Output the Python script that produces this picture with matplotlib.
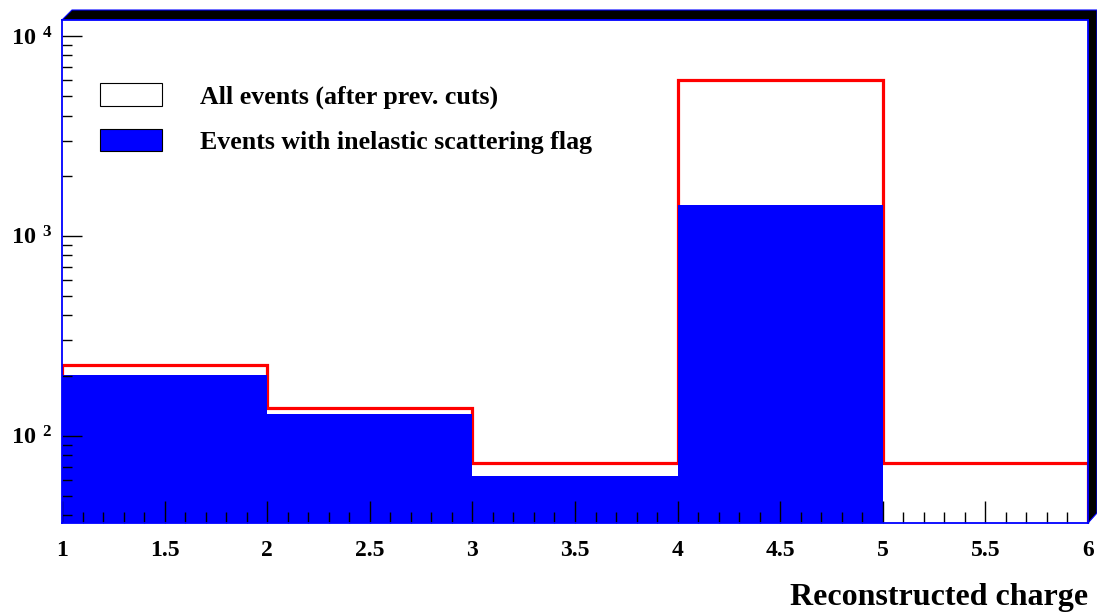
import matplotlib
matplotlib.use('Agg')
import matplotlib.pyplot as plt
import numpy as np
from matplotlib.patches import Patch, Polygon
from matplotlib.ticker import FixedLocator, FixedFormatter, LogLocator, MultipleLocator, NullFormatter

# ---- data ----
bin_edges = [1, 2, 3, 4, 5, 6]
all_events = [226, 138, 73, 6000, 73]
inelastic_events = [201, 129, 63, 1420, 0]
x_ticks = [1, 1.5, 2, 2.5, 3, 3.5, 4, 4.5, 5, 5.5, 6]
x_tick_labels = ['1', '1.5', '2', '2.5', '3', '3.5', '4', '4.5', '5', '5.5', '6']
y_ticks = [1e2, 1e3, 1e4]
y_tick_labels = [r'$\mathbf{10}^{\ \,\mathbf{2}}$', r'$\mathbf{10}^{\ \,\mathbf{3}}$',
                 r'$\mathbf{10}^{\ \,\mathbf{4}}$']
legend_labels = ['All events (after prev. cuts)', 'Events with inelastic scattering flag']
x_label = 'Reconstructed charge'

plt.rcParams['font.family'] = ['Liberation Serif', 'DejaVu Serif']
plt.rcParams['font.weight'] = 'bold'
plt.rcParams['mathtext.fontset'] = 'custom'
plt.rcParams['mathtext.rm'] = 'Liberation Serif:bold'
plt.rcParams['mathtext.bf'] = 'Liberation Serif:bold'
plt.rcParams['mathtext.it'] = 'Liberation Serif:bold'

W, H = 1097, 616
fig = plt.figure(figsize=(W / 100, H / 100), dpi=100)
fig.patch.set_facecolor('white')

# frame shadow (ROOT style)
pts = [(62, 20), (72, 10), (1097, 10), (1097, 513), (1088, 523), (1088, 20)]
shadow = Polygon([(x / W, 1 - y / H) for x, y in pts], closed=True,
                 transform=fig.transFigure, facecolor='black', edgecolor='blue',
                 lw=0.8, zorder=-1)
fig.add_artist(shadow)

ax = fig.add_axes([62 / W, 1 - 523 / H, (1088 - 62) / W, (523 - 20) / H])
ax.set_yscale('log')
ax.set_xlim(1, 6)
ax.set_ylim(36.6, 12030)
ax.set_axisbelow(False)

ax.stairs(all_events, bin_edges, baseline=1, color='red', lw=2.3, zorder=1.1)
ax.stairs(inelastic_events, bin_edges, baseline=1, fill=True, color='blue', zorder=1.2)

for s in ax.spines.values():
    s.set_color('blue')
    s.set_linewidth(1.3)
    s.set_zorder(3)

ax.xaxis.set_major_locator(FixedLocator(x_ticks))
ax.xaxis.set_major_formatter(FixedFormatter(x_tick_labels))
ax.xaxis.set_minor_locator(MultipleLocator(0.1))
ax.yaxis.set_major_locator(FixedLocator(y_ticks))
ax.yaxis.set_major_formatter(FixedFormatter(y_tick_labels))
ax.yaxis.set_minor_locator(LogLocator(base=10, subs=np.arange(2, 10)))
ax.yaxis.set_minor_formatter(NullFormatter())

ax.tick_params(axis='x', which='major', direction='in', length=15.8, width=1.0,
               color='black', pad=12, labelsize=17, top=False)
ax.tick_params(axis='x', which='minor', direction='in', length=7.9, width=1.0,
               color='black', top=False)
ax.tick_params(axis='y', which='major', direction='in', length=14.4, width=1.0,
               color='black', pad=7, labelsize=17.5, right=False)
ax.tick_params(axis='y', which='minor', direction='in', length=7.2, width=1.0,
               color='black', right=False)
for lab in ax.get_xticklabels() + ax.get_yticklabels():
    lab.set_fontweight('bold')

ax.set_xlabel(x_label, loc='right', fontsize=23, fontweight='bold', labelpad=16)

handles = [Patch(facecolor='white', edgecolor='black', lw=0.8),
           Patch(facecolor='blue', edgecolor='black', lw=0.8)]
fs = 18.6
px = fs / 0.72
ax.legend(handles, legend_labels, loc='upper left',
          bbox_to_anchor=((100 - 62) / 1026, 1 - (83 - 20) / 503),
          frameon=False, borderpad=0, borderaxespad=0,
          handlelength=62 / px, handleheight=25 / px, handletextpad=38 / px,
          labelspacing=0.78, prop={'size': fs, 'weight': 'bold'})

fig.savefig('out.png', dpi=100)
